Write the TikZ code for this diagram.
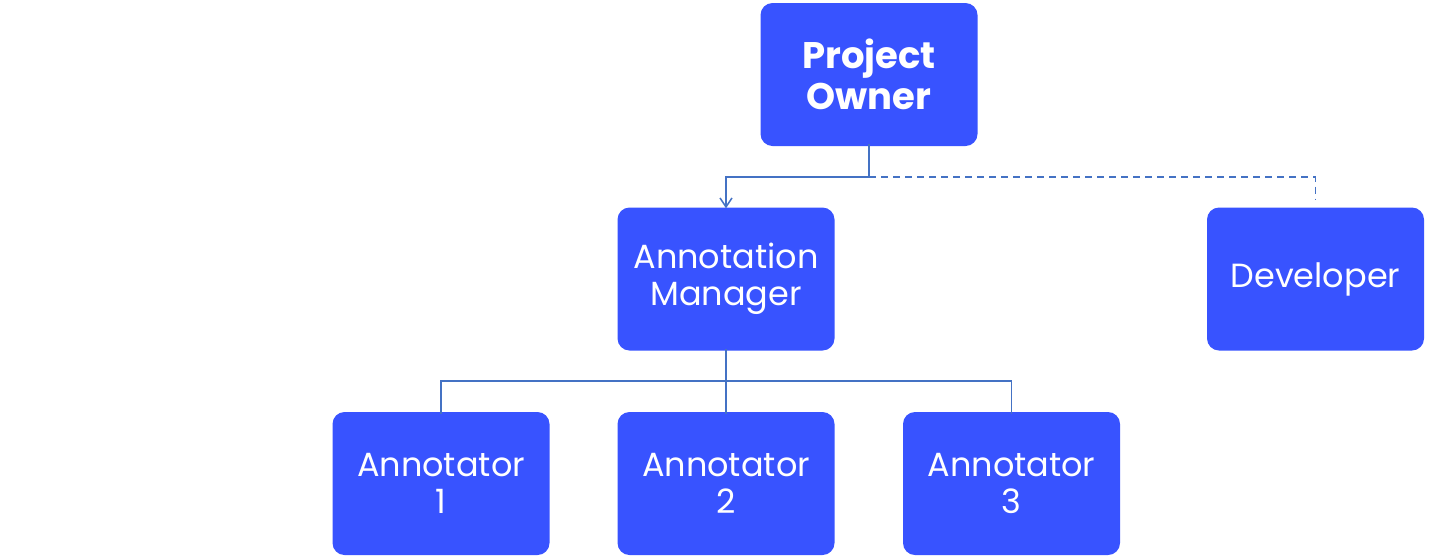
\documentclass[tikz,border=0pt]{standalone}
\usepackage{fontspec}
\setmainfont{Poppins}
\usetikzlibrary{arrows.meta}
\definecolor{boxblue}{RGB}{56,83,255}
\definecolor{lineblue}{RGB}{68,114,196}
\begin{document}
\begin{tikzpicture}[x=1pt,y=-1pt,
  box/.style={draw=none,fill=boxblue,rounded corners=12pt,minimum width=217pt,minimum height=143pt,
    text=white,align=center,inner sep=0pt,font=\fontsize{33.5}{37}\selectfont},
  conn/.style={draw=lineblue,line width=1.5pt},
  dconn/.style={draw=lineblue,line width=1.5pt,dash pattern=on 7pt off 5pt}]
\useasboundingbox (0,0) rectangle (1452,558);
\node[box,font=\fontsize{37}{41}\selectfont\bfseries] (po) at (869,74.5) {Project\\Owner};
\node[box] (am) at (726,279) {Annotation\\Manager};
\node[box] (dev) at (1315.5,279) {Developer};
\node[box] (a1) at (441,483.5) {Annotator\\1};
\node[box] (a2) at (726,483.5) {Annotator\\2};
\node[box] (a3) at (1011.5,483.5) {Annotator\\3};
\coordinate (j1) at (869,177);
\coordinate (dend) at (1315.5,199);
\coordinate (j2) at (726,381);
\draw[conn,-{Straight Barb[length=9pt,width=12pt]}] ([yshift=2pt]po.south) |- (j1) -| ([yshift=-1pt]am.north);
\draw[dconn] (j1) -| (dend);
\draw[conn] ([yshift=2pt]am.south) -- ([yshift=-2pt]a2.north);
\draw[conn] ([yshift=-2pt]a1.north) |- (j2) -| ([yshift=-2pt]a3.north);
\end{tikzpicture}
\end{document}
